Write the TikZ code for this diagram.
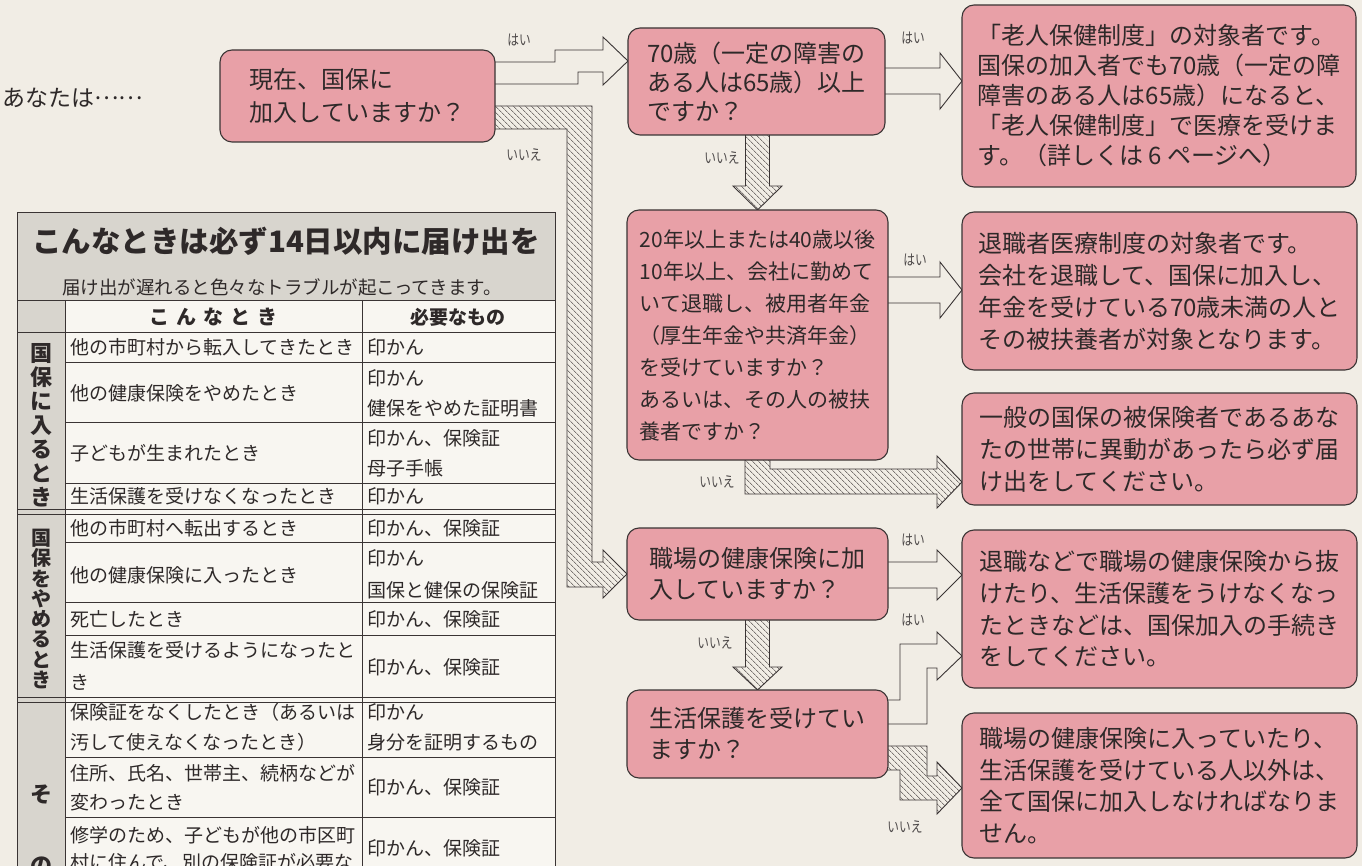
\documentclass[tikz,border=0pt]{standalone}
\usepackage{fontspec}
\setmainfont{Noto Sans CJK JP}
\usetikzlibrary{patterns.meta}
\definecolor{bg}{HTML}{F1EDE5}
\definecolor{pinkbox}{HTML}{E8A0A7}
\definecolor{edge}{HTML}{3A3434}
\definecolor{tgray}{HTML}{D8D5CE}
\definecolor{tbody}{HTML}{F8F6F1}
\definecolor{ink}{HTML}{2E2929}
\newcommand\yntext[1]{\scalebox{0.78}[1]{#1}}
\tikzset{
  qbox/.style={draw=edge, line width=1.1pt, fill=pinkbox, rounded corners=12pt, align=left, text=ink, inner sep=0pt},
  whitearrow/.style={draw=edge, line width=0.9pt, fill=bg, line join=miter},
  hatcharrow/.style={draw=edge, line width=0.9pt, line join=miter, pattern={Lines[angle=-45,distance=4pt,line width=0.6pt]}, pattern color=edge},
  lbl/.style={font=\fontsize{15}{15}\selectfont, text=ink!85, inner sep=0pt},
  cell/.style={anchor=west, inner sep=0pt, align=left, font=\fontsize{19}{30}\selectfont, text=ink},
  tline/.style={draw=edge, line width=0.8pt},
  cat/.style={align=center, inner sep=0pt, text=ink},
}
\begin{document}
\begin{tikzpicture}[x=1pt,y=-1pt]
\useasboundingbox (0,0) rectangle (1362,866);
\clip (0,0) rectangle (1362,866);
\fill[bg] (0,0) rectangle (1362,866);

% ---------- table ----------
\fill[tgray] (17,212) rectangle (555,300);
\fill[tgray] (17,300) rectangle (65,870);
\fill[tbody] (65,300) rectangle (555,870);
\draw[tline] (17,870) -- (17,212) -- (555,212) -- (555,870);
\draw[tline] (17,300) -- (555,300);
\draw[tline] (17,332) -- (555,332);
\draw[tline] (65,300) -- (65,870);
\draw[tline] (362,300) -- (362,870);
\foreach \yy in {362,422,483,542,602,635,757,817} \draw[tline] (65,\yy) -- (555,\yy);
\foreach \yy in {509,514,697,702} \draw[tline] (17,\yy) -- (555,\yy);

\node[font=\bfseries\fontsize{29.5}{30}\selectfont, text=ink, inner sep=0pt] (ttl) at (286,241) {こんなときは必ず14日以内に届け出を};
\node[font=\fontsize{18.5}{20}\selectfont, text=ink, inner sep=0pt] (sub) at (282,287) {届け出が遅れると色々なトラブルが起こってきます。};
\node[font=\bfseries\fontsize{20}{20}\selectfont, text=ink, inner sep=0pt] (h1) at (213,317) {こ\hspace{0.35em}ん\hspace{0.35em}な\hspace{0.35em}と\hspace{0.35em}き};
\node[font=\bfseries\fontsize{19}{20}\selectfont, text=ink, inner sep=0pt] (h2) at (458,317) {必要なもの};

\node[cat, font=\bfseries\fontsize{22}{24}\selectfont] (k1) at (41,425) {国\\保\\に\\入\\る\\と\\き};
\node[cat, font=\bfseries\fontsize{20}{20.3}\selectfont] (k2) at (41,609) {国\\保\\を\\や\\め\\る\\と\\き};
\node[cat, font=\bfseries\fontsize{22}{24}\selectfont] (k3) at (41,795) {そ};
\node[cat, font=\bfseries\fontsize{22}{24}\selectfont] (k4) at (41,866) {の};

\node[cell] (r1a) at (70,347) {他の市町村から転入してきたとき};
\node[cell] (r1b) at (367,347) {印かん};
\node[cell] (r2a) at (70,393) {他の健康保険をやめたとき};
\node[cell] (r2b) at (367,393) {印かん\\健保をやめた証明書};
\node[cell] (r3a) at (70,453) {子どもが生まれたとき};
\node[cell] (r3b) at (367,453) {印かん、保険証\\母子手帳};
\node[cell] (r4a) at (70,496) {生活保護を受けなくなったとき};
\node[cell] (r4b) at (367,496) {印かん};
\node[cell] (r5a) at (70,528) {他の市町村へ転出するとき};
\node[cell] (r5b) at (367,528) {印かん、保険証};
\node[cell] (r6a) at (70,575) {他の健康保険に入ったとき};
\node[cell, font=\fontsize{19}{32}\selectfont] (r6b) at (367,574) {印かん\\国保と健保の保険証};
\node[cell] (r7a) at (70,619) {死亡したとき};
\node[cell] (r7b) at (367,619) {印かん、保険証};
\node[cell, font=\fontsize{19}{32}\selectfont] (r8a) at (70,666) {生活保護を受けるようになったと\\き};
\node[cell] (r8b) at (367,667) {印かん、保険証};
\node[cell] (r9a) at (70,727) {保険証をなくしたとき（あるいは\\汚して使えなくなったとき）};
\node[cell] (r9b) at (367,727) {印かん\\身分を証明するもの};
\node[cell, font=\fontsize{19}{29}\selectfont] (r10a) at (70,787.5) {住所、氏名、世帯主、続柄などが\\変わったとき};
\node[cell] (r10b) at (367,787) {印かん、保険証};
\node[cell, font=\fontsize{19}{27}\selectfont] (r11a) at (70,848.5) {修学のため、子どもが他の市区町\\村に住んで、別の保険証が必要な};
\node[cell] (r11b) at (367,848) {印かん、保険証};

\node[font=\fontsize{23}{24}\selectfont, text=ink, anchor=west, inner sep=0pt] (you) at (2,98) {あなたは\raisebox{0.32em}{……}};

% arrows first
\draw[whitearrow] (488,62) -- (555,62) -- (555,50) -- (603,50) -- (603,37) -- (628,61) -- (603,85) -- (603,72) -- (578,72) -- (578,84) -- (488,84) -- cycle;
\draw[hatcharrow] (488,106) -- (592,106) -- (592,562) -- (603,562) -- (603,550) -- (627,574) -- (603,598) -- (603,587) -- (567,587) -- (567,129) -- (488,129) -- cycle;
\draw[whitearrow] (880,68) -- (940,68) -- (940,53) -- (962,81) -- (940,109) -- (940,94) -- (880,94) -- cycle;
\draw[hatcharrow] (745.5,128) -- (745.5,186) -- (733,186) -- (757.5,210) -- (782,186) -- (769.5,186) -- (769.5,128) -- cycle;
\draw[whitearrow] (880,277) -- (940,277) -- (940,262) -- (962,290) -- (940,318) -- (940,303) -- (880,303) -- cycle;
\draw[hatcharrow] (745,452) -- (770,452) -- (770,469) -- (937,469) -- (937,456) -- (962,482) -- (937,508) -- (937,494) -- (745,494) -- cycle;
\draw[whitearrow] (880,562) -- (937,562) -- (937,550) -- (962,575) -- (937,600) -- (937,588) -- (880,588) -- cycle;
\draw[hatcharrow] (745.5,612) -- (745.5,667) -- (733,667) -- (757.5,690) -- (782,667) -- (769.5,667) -- (769.5,612) -- cycle;
\draw[whitearrow] (880,700) -- (900,700) -- (900,644) -- (937,644) -- (937,632) -- (962,656) -- (937,680) -- (937,668) -- (927,668) -- (927,724) -- (880,724) -- cycle;
\draw[hatcharrow] (880,746) -- (927,746) -- (927,776) -- (937,776) -- (937,762) -- (962,788) -- (937,814) -- (937,800) -- (900,800) -- (900,770) -- (880,770) -- cycle;

% boxes
\node[qbox, minimum width=275pt, minimum height=92pt, font=\fontsize{24}{33}\selectfont] (A) at (357.5,96) {現在、国保に\\加入していますか？};
\node[qbox, minimum width=257pt, minimum height=107pt, font=\fontsize{24}{29}\selectfont] (B) at (756.5,81.5) {70歳（一定の障害の\\ある人は65歳）以上\\ですか？};
\node[qbox, minimum width=394pt, minimum height=182pt, font=\fontsize{24}{30}\selectfont] (C) at (1159,96) {「老人保健制度」の対象者です。\\国保の加入者でも70歳（一定の障\\障害のある人は65歳）になると、\\「老人保健制度」で医療を受けま\\す。（詳しくは 6 ページへ）};
\node[qbox, minimum width=261pt, minimum height=250pt, font=\fontsize{21}{32}\selectfont] (D) at (757.5,335) {20年以上または40歳以後\\10年以上、会社に勤めて\\いて退職し、被用者年金\\（厚生年金や共済年金）\\を受けていますか？\\あるいは、その人の被扶\\養者ですか？};
\node[qbox, minimum width=395pt, minimum height=158pt, font=\fontsize{24}{32}\selectfont] (E) at (1159.5,291) {退職者医療制度の対象者です。\\会社を退職して、国保に加入し、\\年金を受けている70歳未満の人と\\その被扶養者が対象となります。};
\node[qbox, minimum width=395pt, minimum height=112pt, font=\fontsize{24}{32}\selectfont] (F) at (1159.5,449) {一般の国保の被保険者であるあな\\たの世帯に異動があったら必ず届\\け出をしてください。};
\node[qbox, minimum width=261pt, minimum height=92pt, font=\fontsize{24}{31}\selectfont] (G) at (757.5,574) {職場の健康保険に加\\入していますか？};
\node[qbox, minimum width=261pt, minimum height=88pt, font=\fontsize{24}{31}\selectfont] (H) at (757.5,734) {生活保護を受けてい\\ますか？};
\node[qbox, minimum width=395pt, minimum height=158pt, font=\fontsize{24}{31.7}\selectfont] (I) at (1159.5,609) {退職などで職場の健康保険から抜\\けたり、生活保護をうけなくなっ\\たときなどは、国保加入の手続き\\をしてください。};
\node[qbox, minimum width=395pt, minimum height=145pt, font=\fontsize{24}{31.7}\selectfont] (J) at (1159.5,785.5) {職場の健康保険に入っていたり、\\生活保護を受けている人以外は、\\全て国保に加入しなければなりま\\せん。};

% labels
\node[lbl] (l1) at (519,40) {\yntext{はい}};
\node[lbl] (l2) at (524,155) {\yntext{いいえ}};
\node[lbl] (l3) at (913,38) {\yntext{はい}};
\node[lbl] (l4) at (722,158) {\yntext{いいえ}};
\node[lbl] (l5) at (915,260) {\yntext{はい}};
\node[lbl] (l6) at (717,482) {\yntext{いいえ}};
\node[lbl] (l7) at (913,540) {\yntext{はい}};
\node[lbl] (l8) at (715,643) {\yntext{いいえ}};
\node[lbl] (l9) at (913,620) {\yntext{はい}};
\node[lbl] (l10) at (905,827) {\yntext{いいえ}};
\end{tikzpicture}
\end{document}
